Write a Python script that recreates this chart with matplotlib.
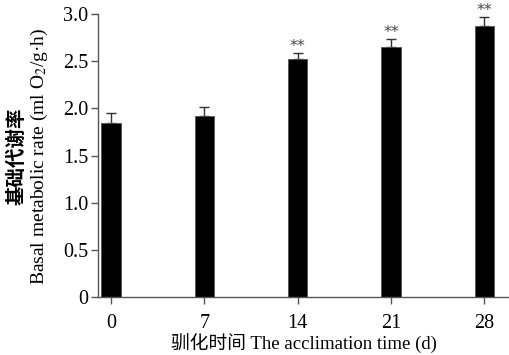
import numpy as np
import matplotlib
matplotlib.use('Agg')
import matplotlib.pyplot as plt

plt.rcParams['font.family'] = ['Liberation Serif', 'Noto Sans CJK SC']
plt.rcParams['mathtext.fontset'] = 'stix'

days = [0, 7, 14, 21, 28]
rate = [1.85, 1.92, 2.52, 2.65, 2.87]
err = [0.10, 0.10, 0.07, 0.09, 0.10]
signif = ['', '', '**', '**', '**']

fig = plt.figure(figsize=(5.09, 3.55), dpi=100)
ax = fig.add_axes([0.1925, 0.163, 0.8075, 0.7975])

ax.bar(days, rate, width=1.45, color='black', edgecolor='#555555', linewidth=0.6, zorder=2)
ax.errorbar(days, rate, yerr=[np.zeros(len(err)), err], fmt='none',
            ecolor='#333333', elinewidth=1.0, capsize=3.5, capthick=1.0, zorder=1)

for d, r, e, s in zip(days, rate, err, signif):
    if s:
        ax.text(d, r + e - 0.015, s, ha='center', va='bottom', fontsize=11.5,
                color='#444444', family='DejaVu Sans')

ax.set_xlim(-0.98, 29.85)
ax.set_ylim(0, 3.0)
ax.set_xticks(days)
ax.set_xticklabels([str(d) for d in days])
ax.set_yticks([0, 0.5, 1.0, 1.5, 2.0, 2.5, 3.0])
ax.set_yticklabels(['0', '0.5', '1.0', '1.5', '2.0', '2.5', '3.0'])

for sp in ['top', 'right']:
    ax.spines[sp].set_visible(False)
for sp in ['left', 'bottom']:
    ax.spines[sp].set_color('#555555')
    ax.spines[sp].set_linewidth(1.0)
ax.tick_params(direction='out', length=5, width=1.0, color='#555555',
               labelsize=14.5, pad=2)
ax.tick_params(axis='x', pad=7)

ax.set_xlabel('驯化时间 The acclimation time (d)', fontsize=13.5, labelpad=0)
fig.text(0.078, 0.56, 'Basal metabolic rate (ml O$_2$/g·h)', rotation=90,
         ha='center', va='center', fontsize=14)
fig.text(0.034, 0.56, '基础代谢率', rotation=90, ha='center', va='center',
         fontsize=14, family='Noto Sans CJK SC', fontweight='bold')

fig.savefig('out.png', dpi=100)
